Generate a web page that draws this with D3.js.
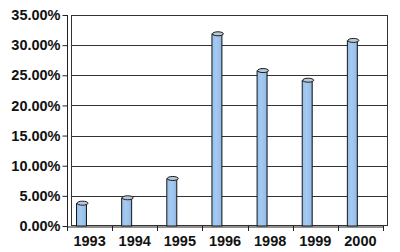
<!DOCTYPE html>
<html>
<head>
<meta charset="utf-8">
<script src="https://cdn.jsdelivr.net/npm/d3@7"></script>
<style>
  body { margin: 0; background: #fff; }
  text { font-family: "Liberation Sans", Arial, sans-serif; font-weight: bold; fill: #111; }
</style>
</head>
<body>
<div id="chart"></div>
<script>
let years = ["1993", "1994", "1995", "1996", "1998", "1999", "2000"];
let values = [3.7, 4.6, 7.8, 31.8, 25.7, 24.1, 30.7];
let yTicks = [0, 5, 10, 15, 20, 25, 30, 35];

let width = 400, height = 252;
let plotLeft = 67, plotRight = 383, plotTop = 15, plotBottom = 226;
let depth = 4; // back wall offset

let svg = d3.select("#chart")
    .append("svg")
    .attr("width", width)
    .attr("height", height);

let x = d3.scaleBand()
    .domain(years)
    .range([plotLeft, plotRight]);

let y = d3.scaleLinear()
    .domain([0, 35])
    .range([plotBottom, plotTop]);

// gridlines on the back wall
svg.append("g")
    .selectAll("line")
    .data(yTicks.slice(1))
    .enter()
    .append("line")
    .attr("x1", plotLeft + depth)
    .attr("x2", plotRight + depth)
    .attr("y1", d => Math.round(y(d)) + 0.5)
    .attr("y2", d => Math.round(y(d)) + 0.5)
    .attr("stroke", "#333")
    .attr("stroke-width", 1);

// wall edges
svg.append("line")
    .attr("x1", plotRight + depth + 0.5).attr("x2", plotRight + depth + 0.5)
    .attr("y1", plotTop).attr("y2", plotBottom)
    .attr("stroke", "#333");
svg.append("line")
    .attr("x1", plotLeft + depth + 0.5).attr("x2", plotLeft + depth + 0.5)
    .attr("y1", plotTop).attr("y2", plotBottom)
    .attr("stroke", "#333");
svg.append("line")
    .attr("x1", plotLeft + depth).attr("x2", plotRight + depth)
    .attr("y1", plotBottom - 0.5).attr("y2", plotBottom - 0.5)
    .attr("stroke", "#333");

// bars as little cylinders
let defs = svg.append("defs");
let grad = defs.append("linearGradient").attr("id", "barGrad");
grad.append("stop").attr("offset", "0%").attr("stop-color", "#94bde9");
grad.append("stop").attr("offset", "40%").attr("stop-color", "#a6cbf1");
grad.append("stop").attr("offset", "85%").attr("stop-color", "#96bfea");
grad.append("stop").attr("offset", "100%").attr("stop-color", "#6f96c4");

let barW = 10;
let bars = svg.append("g")
    .selectAll("g")
    .data(years)
    .enter()
    .append("g");

bars.append("rect")
    .attr("x", d => x(d) + 9.5)
    .attr("y", (d, i) => y(values[i]))
    .attr("width", barW)
    .attr("height", (d, i) => plotBottom - y(values[i]))
    .attr("fill", "url(#barGrad)")
    .attr("stroke", "#1a1a1a")
    .attr("stroke-width", 1);

bars.append("ellipse")
    .attr("cx", d => x(d) + 9.5 + barW / 2 + 1)
    .attr("cy", (d, i) => y(values[i]) - 0.5)
    .attr("rx", barW / 2 + 0.5)
    .attr("ry", 2)
    .attr("fill", "#b9c8d8")
    .attr("stroke", "#1a1a1a")
    .attr("stroke-width", 1);

// front left wall line
svg.append("line")
    .attr("x1", plotLeft + 0.5).attr("x2", plotLeft + 0.5)
    .attr("y1", plotTop).attr("y2", plotBottom + 1)
    .attr("stroke", "#222");

// y axis
let yAxis = d3.axisLeft(y)
    .tickValues(yTicks)
    .tickSize(5)
    .tickPadding(2)
    .tickFormat(d => d.toFixed(2) + "%");

svg.append("g")
    .attr("transform", "translate(" + (plotLeft + 0.5) + ",0)")
    .call(yAxis)
    .call(g => g.select(".domain").remove())
    .call(g => g.selectAll("line").attr("stroke", "#222"))
    .call(g => g.selectAll("text").style("font-size", "14.5px"));

// x axis
let xAxis = d3.axisBottom(x)
    .tickSize(0)
    .tickPadding(9);

let xg = svg.append("g")
    .attr("transform", "translate(0," + (plotBottom + 0.5) + ")")
    .call(xAxis);
xg.select(".domain").attr("stroke", "#222");
xg.selectAll("text").style("font-size", "14.5px");

// tick marks between categories
svg.append("g")
    .selectAll("line")
    .data(years.concat(["end"]))
    .enter()
    .append("line")
    .attr("x1", (d, i) => Math.round(plotLeft + i * x.step()) + 0.5)
    .attr("x2", (d, i) => Math.round(plotLeft + i * x.step()) + 0.5)
    .attr("y1", plotBottom)
    .attr("y2", plotBottom + 5)
    .attr("stroke", "#222");
</script>
</body>
</html>
